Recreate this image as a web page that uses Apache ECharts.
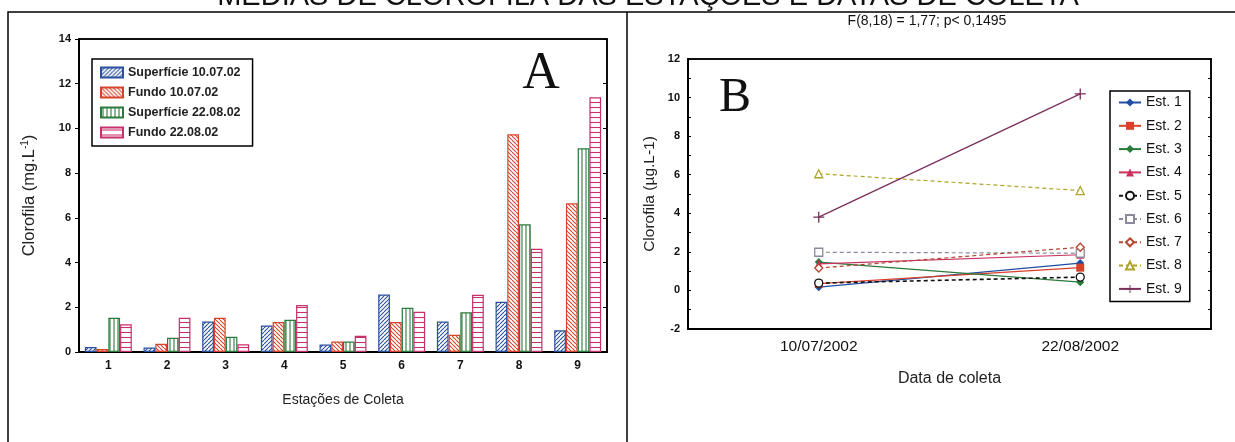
<!DOCTYPE html>
<html><head><meta charset="utf-8">
<script src="https://cdn.jsdelivr.net/npm/echarts@6/dist/echarts.min.js"></script>
<style>html,body{margin:0;padding:0;background:#fff}#c{width:1235px;height:442px}</style>
</head><body><div id="c"></div>
<script>
// ---- data ----
const stations = ['1','2','3','4','5','6','7','8','9'];
const supJul = [0.22, 0.20, 1.36, 1.18, 0.33, 2.57, 1.36, 2.25, 0.97];
const fundoJul = [0.13, 0.37, 1.53, 1.34, 0.47, 1.34, 0.77, 9.74, 6.65];
const supAug = [1.53, 0.64, 0.68, 1.44, 0.47, 1.98, 1.78, 5.71, 9.11];
const fundoAug = [1.24, 1.53, 0.35, 2.10, 0.73, 1.80, 2.56, 4.62, 11.39];
const seriesNamesA = ['Superfície 10.07.02', 'Fundo 10.07.02', 'Superfície 22.08.02', 'Fundo 22.08.02'];

const dates = ['10/07/2002', '22/08/2002'];
const est1 = [0.17, 1.42];
const est2 = [0.35, 1.18];
const est3 = [1.47, 0.43];
const est4 = [1.38, 1.85];
const est5 = [0.38, 0.69];
const est6 = [1.98, 1.93];
const est7 = [1.16, 2.24];
const est8 = [6.05, 5.18];
const est9 = [3.80, 10.19];
const estNames = ['Est. 1','Est. 2','Est. 3','Est. 4','Est. 5','Est. 6','Est. 7','Est. 8','Est. 9'];

const mainTitle = 'MÉDIAS DE CLOROFILA DAS ESTAÇÕES E DATAS DE COLETA';
const statText = 'F(8,18) = 1,77; p< 0,1495';

// ---- patterns ----
function pattern(color, type) {
  const s = type === 'h' ? 5 : 4;
  const c = document.createElement('canvas');
  c.width = s; c.height = s;
  const g = c.getContext('2d');
  g.fillStyle = '#fff'; g.fillRect(0, 0, s, s);
  g.strokeStyle = color; g.lineWidth = 1.1;
  g.beginPath();
  if (type === 'f') {
    for (let k = -1; k <= 1; k++) { g.moveTo(k * s, s); g.lineTo(k * s + s, 0); }
  } else if (type === 'b') {
    for (let k = -1; k <= 1; k++) { g.moveTo(k * s, 0); g.lineTo(k * s + s, s); }
  } else if (type === 'v') {
    g.moveTo(s / 2, 0); g.lineTo(s / 2, s);
  } else {
    g.moveTo(0, s / 2); g.lineTo(s, s / 2);
  }
  g.stroke();
  return { image: c, repeat: 'repeat' };
}
const colA = ['#2b4f9e', '#d8452f', '#2c7a3c', '#c7306a'];
const patA = [pattern(colA[0], 'f'), pattern(colA[1], 'b'), pattern(colA[2], 'v'), pattern(colA[3], 'h')];
const dataA = [supJul, fundoJul, supAug, fundoAug];

const FONT = 'Liberation Sans, Arial, sans-serif';

const barSeries = dataA.map((d, i) => ({
  type: 'bar', name: seriesNamesA[i], xAxisIndex: 0, yAxisIndex: 0, data: d,
  barGap: '0%', barCategoryGap: '20%',
  itemStyle: { color: patA[i], borderColor: colA[i], borderWidth: 1.2 },
  emphasis: { disabled: true }
}));

const estData = [est1, est2, est3, est4, est5, est6, est7, est8, est9];
const estColor = ['#1f4ea3', '#d8402a', '#2a7a3a', '#c8305e', '#111111', '#8a8a9a', '#b5452f', '#b0a42a', '#7a2e5a'];
const estSymbol = ['diamond', 'rect', 'diamond', 'triangle', 'circle', 'rect', 'diamond', 'triangle',
  'path://M0,4.4H10V5.6H0Z M4.4,0H5.6V10H4.4Z'];
const estOpen = [false, false, false, false, true, true, true, true, false];
const estDash = [false, false, false, false, true, true, true, true, false];
const lineSeries = estData.map((d, i) => ({
  type: 'line', name: estNames[i], xAxisIndex: 2, yAxisIndex: 2, data: d,
  symbol: estSymbol[i], symbolSize: i === 8 ? 11 : 8,
  lineStyle: { color: estColor[i], width: i === 4 ? 1.6 : 1.2, type: estDash[i] ? [4, 3] : 'solid' },
  itemStyle: estOpen[i] ? { color: '#fff', borderColor: estColor[i], borderWidth: 1.3 } : { color: estColor[i] },
  emphasis: { disabled: true }, animation: false
}));

const chart = echarts.init(document.getElementById('c'));
chart.setOption({
  animation: false,
  backgroundColor: '#fff',
  textStyle: { fontFamily: FONT },
  grid: [
    { left: 79, top: 39, right: 628, bottom: 90, show: true, borderColor: '#000', borderWidth: 1.5 },
    { left: 688, top: 59, right: 24, bottom: 113, show: true, borderColor: '#000', borderWidth: 1.5 }
  ],
  xAxis: [
    { gridIndex: 0, type: 'category', data: stations,
      axisLine: { onZero: false, lineStyle: { color: '#000', width: 2 } },
      axisTick: { inside: true, length: 3, lineStyle: { color: '#000', width: 2 } },
      axisLabel: { color: '#111', fontSize: 12, fontWeight: 'bold', margin: 8 },
      name: 'Estações de Coleta', nameLocation: 'middle', nameGap: 41,
      nameTextStyle: { color: '#222', fontSize: 14 } },
    { gridIndex: 0, type: 'category', data: stations, position: 'top',
      axisLine: { onZero: false, lineStyle: { color: '#000', width: 1.5 } },
      axisTick: { inside: true, length: 4, lineStyle: { color: '#000' } },
      axisLabel: { show: false } },
    { gridIndex: 1, type: 'category', data: dates, boundaryGap: true,
      axisLine: { onZero: false, lineStyle: { color: '#000', width: 2 } },
      axisTick: { alignWithLabel: true, length: 3, lineStyle: { color: '#000' } },
      axisLabel: { color: '#111', fontSize: 15.5, margin: 10 },
      name: 'Data de coleta', nameLocation: 'middle', nameGap: 42,
      nameTextStyle: { color: '#222', fontSize: 16 } },
    { gridIndex: 1, type: 'category', data: dates, position: 'top', boundaryGap: true,
      axisLine: { onZero: false, lineStyle: { color: '#000', width: 1.5 } },
      axisTick: { alignWithLabel: true, inside: true, length: 3, lineStyle: { color: '#000' } },
      axisLabel: { show: false } }
  ],
  yAxis: [
    { gridIndex: 0, type: 'value', min: 0, max: 14, interval: 2,
      axisLine: { show: true, lineStyle: { color: '#000', width: 2 } },
      axisTick: { show: true, length: 4, lineStyle: { color: '#000' } },
      splitLine: { show: false },
      axisLabel: { color: '#111', fontSize: 11, fontWeight: 'bold', margin: 8 },
      name: 'Clorofila (mg.L{sup|-1})', nameLocation: 'middle', nameGap: 40,
      nameTextStyle: { color: '#222', fontSize: 16.5, rich: { sup: { fontSize: 10, color: '#222', padding: [0, 0, 9, 0] } } } },
    { gridIndex: 0, type: 'value', min: 0, max: 14, interval: 2, position: 'right',
      axisLine: { show: true, lineStyle: { color: '#000', width: 1.5 } },
      axisTick: { show: true, inside: true, length: 4, lineStyle: { color: '#000' } },
      splitLine: { show: false }, axisLabel: { show: false } },
    { gridIndex: 1, type: 'value', min: -2, max: 12, interval: 2,
      axisLine: { show: true, lineStyle: { color: '#000', width: 2 } },
      axisTick: { show: true, inside: true, length: 3, lineStyle: { color: '#000' } },
      minorTick: { show: true, splitNumber: 2, length: 3, lineStyle: { color: '#000' } },
      splitLine: { show: false },
      axisLabel: { color: '#111', fontSize: 11, fontWeight: 'bold', margin: 8 },
      name: 'Clorofila (µg.L-1)', nameLocation: 'middle', nameGap: 30,
      nameTextStyle: { color: '#222', fontSize: 15.5 } },
    { gridIndex: 1, type: 'value', min: -2, max: 12, interval: 2, position: 'right',
      axisLine: { show: true, lineStyle: { color: '#000', width: 1.5 } },
      axisTick: { show: true, inside: true, length: 3, lineStyle: { color: '#000' } },
      minorTick: { show: true, splitNumber: 2, length: 3, lineStyle: { color: '#000' } },
      splitLine: { show: false }, axisLabel: { show: false } }
  ],
  legend: [
    { data: seriesNamesA, orient: 'vertical', left: 92, top: 59,
      backgroundColor: '#fff', borderColor: '#000', borderWidth: 1.5,
      padding: [7, 12, 7, 8], itemWidth: 22, itemHeight: 10, itemGap: 7,
      icon: 'rect', selectedMode: false,
      textStyle: { fontSize: 12.5, fontWeight: 'bold', color: '#222', lineHeight: 13 } },
    { data: estNames, orient: 'vertical', left: 1110, top: 91,
      backgroundColor: '#fff', borderColor: '#000', borderWidth: 1.5,
      padding: [4, 8, 5, 8], itemWidth: 22, itemHeight: 10, itemGap: 8.3,
      selectedMode: false,
      textStyle: { fontSize: 14, color: '#111', lineHeight: 15 } }
  ],
  graphic: [
    { type: 'rect', shape: { x: 8, y: 12, width: 1240, height: 460 }, style: { fill: null, stroke: '#000', lineWidth: 1.5 }, z: 0 },
    { type: 'line', shape: { x1: 627, y1: 12, x2: 627, y2: 460 }, style: { stroke: '#000', lineWidth: 1.5 }, z: 0 },
    { type: 'text', style: { text: mainTitle, x: 648, y: -18, fontSize: 29, fontFamily: FONT, fill: '#111', textAlign: 'center' }, z: 10 },
    { type: 'text', style: { text: statText, x: 927, y: 14, fontSize: 14, fontFamily: FONT, fill: '#111', textAlign: 'center' }, z: 10 },
    { type: 'text', style: { text: 'A', x: 541, y: 48, fontSize: 52, fontFamily: 'Liberation Serif, DejaVu Serif, serif', fill: '#111', textAlign: 'center' }, z: 10 },
    { type: 'text', style: { text: 'B', x: 735, y: 74, fontSize: 48, fontFamily: 'Liberation Serif, DejaVu Serif, serif', fill: '#111', textAlign: 'center' }, z: 10 }
  ],
  series: barSeries.concat(lineSeries)
});
</script></body></html>
